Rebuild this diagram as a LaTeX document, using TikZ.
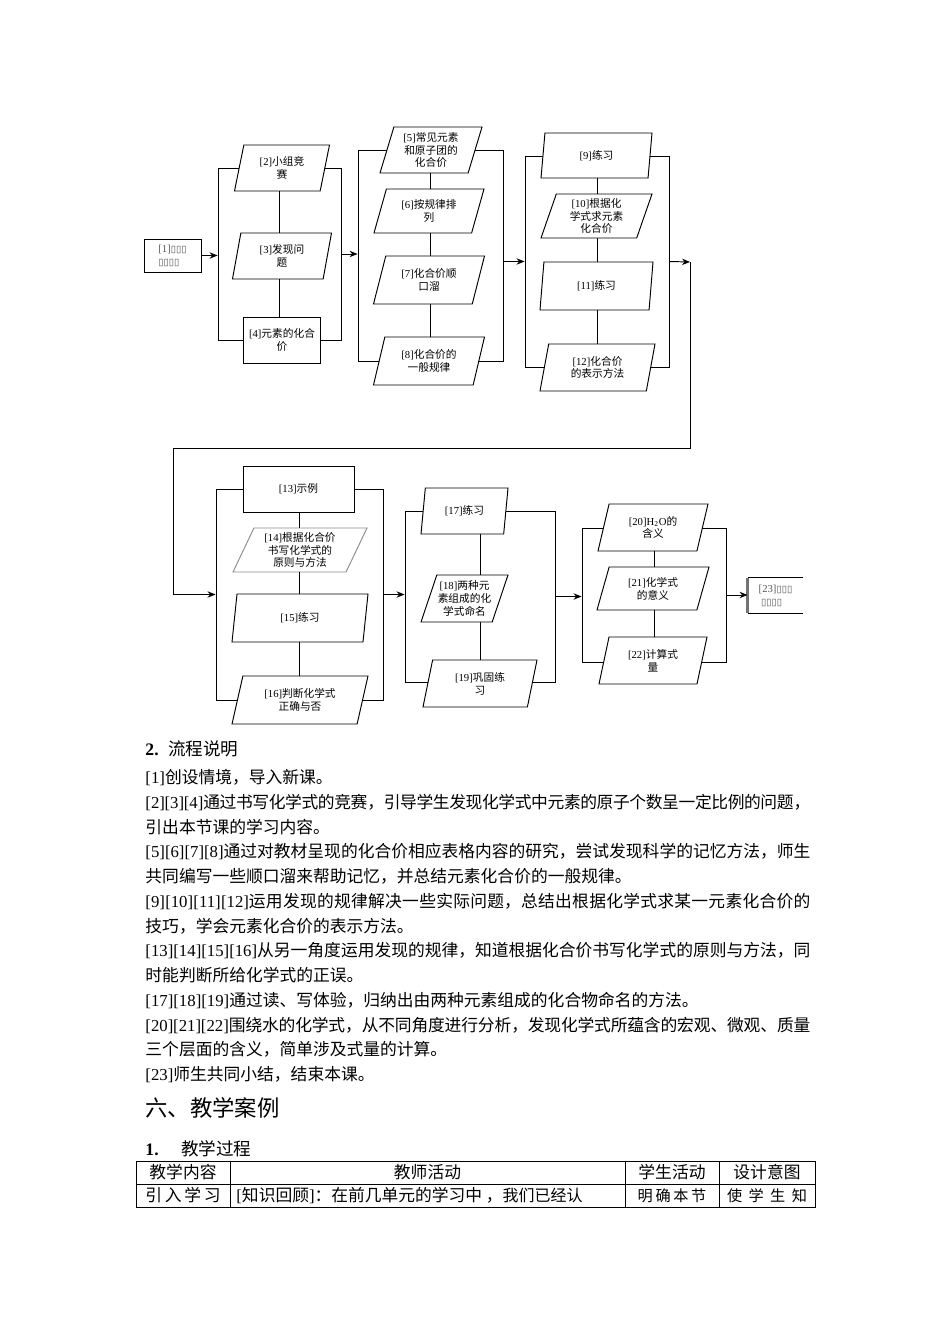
\documentclass[tikz,border=0pt]{standalone}
\usepackage{fontspec}
\setmainfont{Noto Sans CJK SC}
\newfontfamily\lat{Liberation Serif}
\newfontfamily\sym{DejaVu Sans}
\usetikzlibrary{shapes.geometric, arrows.meta}
\XeTeXlinebreaklocale "zh"
\XeTeXlinebreakskip=0pt plus 1pt minus 0.3pt
\newcommand{\px}{0.6264pt}
\newcommand{\tg}[1]{{\lat[#1]}}
\newcommand{\flowfont}{\fontsize{6.7}{8}\selectfont}
\newcommand{\bodyfont}{\fontsize{10.5}{15.5}\selectfont}
\newcommand{\tofu}{{\sym\fontsize{6}{7}\selectfont ▯}}

\begin{document}
\begin{tikzpicture}[
                x=\px, y=-\px,
                font=\flowfont,
                line width=0.6pt,
                grp/.style 2 args={rectangle, draw, inner sep=0pt, minimum width=#1*\px, minimum height=#2*\px},
                box/.style 2 args={rectangle, draw, fill=white, align=center, inner sep=0pt, minimum width=#1*\px, minimum height=#2*\px},
                para/.style n args={3}{trapezium, draw, fill=white, align=center, inner sep=0pt,
                    trapezium left angle={atan(#2/#3)}, trapezium right angle={180-atan(#2/#3)},
                    trapezium stretches body, minimum width=#1*\px, minimum height=#2*\px},
                arrow/.style={->, >={Stealth[length=5pt, width=4pt]}},
                cell/.style 2 args={rectangle, draw, inner sep=0pt, font=\bodyfont, minimum width=#1*\px, minimum height=#2*\px}
            ]
            \useasboundingbox (0,0) rectangle (950,1344);

            % groups
            \node (g1) [grp={123}{172}] at (279.5,254) {};
            \node (g2) [grp={145}{211}] at (430.5,255.5) {};
            \node (g3) [grp={144}{211}] at (597,261.5) {};
            \node (g4) [grp={167}{211}] at (299.5,594.5) {};
            \node (g5) [grp={150}{171}] at (480,596.5) {};
            \node (g6) [grp={144}{134}] at (654,595) {};

            % steps
            \node (n1) [box={57}{33}, align=left, text=black!65] at (172.5,255.5) {\tg{1}\tofu\tofu\tofu\\\tofu\tofu\tofu\tofu};
            \node (p2) [para={95}{46}{19}] at (282,168) {\tg{2}小组竞\\赛};
            \node (p3) [para={99}{46}{17}] at (282,256) {\tg{3}发现问\\题};
            \node (r4) [box={77}{46}] at (282,340) {\tg{4}元素的化合\\价};

            \node (p5) [para={102}{46}{18}] at (431,150) {\tg{5}常见元素\\和原子团的\\化合价};
            \node (p6) [para={110}{44}{24}] at (429,211) {\tg{6}按规律排\\列};
            \node (p7) [para={111}{48}{26}] at (429,280) {\tg{7}化合价顺\\口溜};
            \node (p8) [para={111}{48}{24}] at (429,361) {\tg{8}化合价的\\一般规律};

            \node (p9) [para={111}{45}{17}] at (596.5,155.5) {\tg{9}练习};
            \node (p10) [para={111}{44}{19}] at (596.5,216) {\tg{10}根据化\\学式求元素\\化合价};
            \node (p11) [para={113}{48}{18}] at (596.5,286) {\tg{11}练习};
            \node (p12) [para={115}{47}{18}] at (597.5,367.5) {\tg{12}化合价\\的表示方法};

            \node (r13) [box={111}{46}] at (298.5,489) {\tg{13}示例};
            \node (p14) [para={134}{44}{26}, draw=black!45] at (300,550) {\tg{14}根据化合价\\书写化学式的\\原则与方法};
            \node (p15) [para={136}{48}{23}] at (300,618) {\tg{15}练习};
            \node (p16) [para={136}{48}{23}] at (300,700) {\tg{16}判断化学式\\正确与否};

            \node (p17) [para={87}{46}{19}] at (464.5,511) {\tg{17}练习};
            \node (p18) [para={87}{47}{21}] at (464.5,598.5) {\tg{18}两种元\\素组成的化\\学式命名};
            \node (p19) [para={114}{47}{20}] at (480,683.5) {\tg{19}巩固练\\习};

            \node (p20) [para={110}{47}{23}] at (653,527.5) {\tg{20}{\lat H\textsubscript{2}O}的\\含义};
            \node (p21) [para={112}{43}{23}] at (653,588.5) {\tg{21}化学式\\的意义};
            \node (p22) [para={108}{47}{21}] at (653,660.5) {\tg{22}计算式\\量};
            \node (n23) [rectangle, inner sep=0pt, minimum width=55*\px, minimum height=35*\px, align=left, text=black!65] at (775.5,595.5) {\tg{23}\tofu\tofu\tofu\\\ \tofu\tofu\tofu\tofu};
            \draw (n23.north east) -- (n23.north west);
            \draw (n23.south west) -- (n23.south east);
            \draw [black!55, line width=1.3pt] (n23.north west) -- (n23.south west);

            % spines
            \draw (p2.south -| g1) -- (p3.north -| g1);
            \draw (p3.south -| g1) -- (r4.north -| g1);
            \draw (p5.south -| g2) -- (p6.north -| g2);
            \draw (p6.south -| g2) -- (p7.north -| g2);
            \draw (p7.south -| g2) -- (p8.north -| g2);
            \draw (p9.south -| g3) -- (p10.north -| g3);
            \draw (p10.south -| g3) -- (p11.north -| g3);
            \draw (p11.south -| g3) -- (p12.north -| g3);
            \draw (r13.south -| g4) -- (p14.north -| g4);
            \draw (p14.south -| g4) -- (p15.north -| g4);
            \draw (p15.south -| g4) -- (p16.north -| g4);
            \draw (p17.south -| g5) -- (p18.north -| g5);
            \draw (p18.south -| g5) -- (p19.north -| g5);
            \draw (p20.south -| g6) -- (p21.north -| g6);
            \draw (p21.south -| g6) -- (p22.north -| g6);

            % flow between groups
            \coordinate (turn) at (690,262);
            \coordinate (back) at (173,448);
            \draw [arrow] (n1) -- (n1 -| g1.west);
            \draw [arrow] (g1.east) -- (g1.east -| g2.west);
            \draw [arrow] (g2.east |- g3.west) -- (g3.west);
            \draw [arrow] (g3.east) -- (turn);
            \draw [arrow] (turn) |- (back) |- (g4.west);
            \draw [arrow] (g4.east) -- (g4.east -| g5.west);
            \draw [arrow] (g5.east) -- (g5.east -| g6.west);
            \draw [arrow] (g6.east) -- (g6.east -| n23.west);

            % notes
            \node (head2) [anchor=west, inner sep=0pt, font=\fontsize{11}{13}\selectfont] at (145,749) {{\lat\bfseries 2.}\hspace{6pt}流程说明};
            \node (notes) [anchor=north west, inner sep=0pt, text width=416.5pt, align=justify, font=\bodyfont] at (145,769) {%
                \tg{1}创设情境，导入新课。\par
                \tg{2}\tg{3}\tg{4}通过书写化学式的竞赛，引导学生发现化学式中元素的原子个数呈一定比例的问题，\linebreak 引出本节课的学习内容。\par
                \tg{5}\tg{6}\tg{7}\tg{8}通过对教材呈现的化合价相应表格内容的研究，尝试发现科学的记忆方法，师生\linebreak 共同编写一些顺口溜来帮助记忆，并总结元素化合价的一般规律。\par
                \tg{9}\tg{10}\tg{11}\tg{12}运用发现的规律解决一些实际问题，总结出根据化学式求某一元素化合价的\linebreak 技巧，学会元素化合价的表示方法。\par
                \tg{13}\tg{14}\tg{15}\tg{16}从另一角度运用发现的规律，知道根据化合价书写化学式的原则与方法，同\linebreak 时能判断所给化学式的正误。\par
                \tg{17}\tg{18}\tg{19}通过读、写体验，归纳出由两种元素组成的化合物命名的方法。\par
                \tg{20}\tg{21}\tg{22}围绕水的化学式，从不同角度进行分析，发现化学式所蕴含的宏观、微观、质量\linebreak 三个层面的含义，简单涉及式量的计算。\par
                \tg{23}师生共同小结，结束本课。};

            \node (head6) [anchor=west, inner sep=0pt, font=\fontsize{14}{16}\selectfont] at (145,1108) {六、教学案例};
            \node (head1) [anchor=west, inner sep=0pt, font=\fontsize{11}{13}\selectfont] at (145,1149) {{\lat\bfseries 1.}\hspace{14pt}教学过程};

            % table
            \node (c11) [cell={94}{23}] at (183,1172.5) {教学内容};
            \node (c12) [cell={395}{23}] at (427.5,1172.5) {教师活动};
            \node (c13) [cell={94}{23}] at (672,1172.5) {学生活动};
            \node (c14) [cell={96}{23}] at (767,1172.5) {设计意图};
            \node (c21) [cell={94}{23}] at (183,1195.5) {\makebox[47pt][s]{引\hfill 入\hfill 学\hfill 习}};
            \node (c22) [cell={395}{23}, text width=247.4pt, align=left] at (427.5,1195.5) {\hspace*{4pt}\addfontfeature{LetterSpace=22}{\lat[}知识回顾{\lat]}：在前几单元的学习中，{\fontsize{10}{11}\selectfont\addfontfeature{LetterSpace=0} 我们已经认}};
            \node (c23) [cell={94}{23}, font=\fontsize{9.5}{11}\selectfont] at (672,1195.5) {\makebox[43pt][s]{明\hfill 确\hfill 本\hfill 节}};
            \node (c24) [cell={96}{23}, font=\fontsize{9.5}{11}\selectfont] at (767,1195.5) {\makebox[50pt][s]{使\hfill 学\hfill 生\hfill 知}};
\end{tikzpicture}
\end{document}
